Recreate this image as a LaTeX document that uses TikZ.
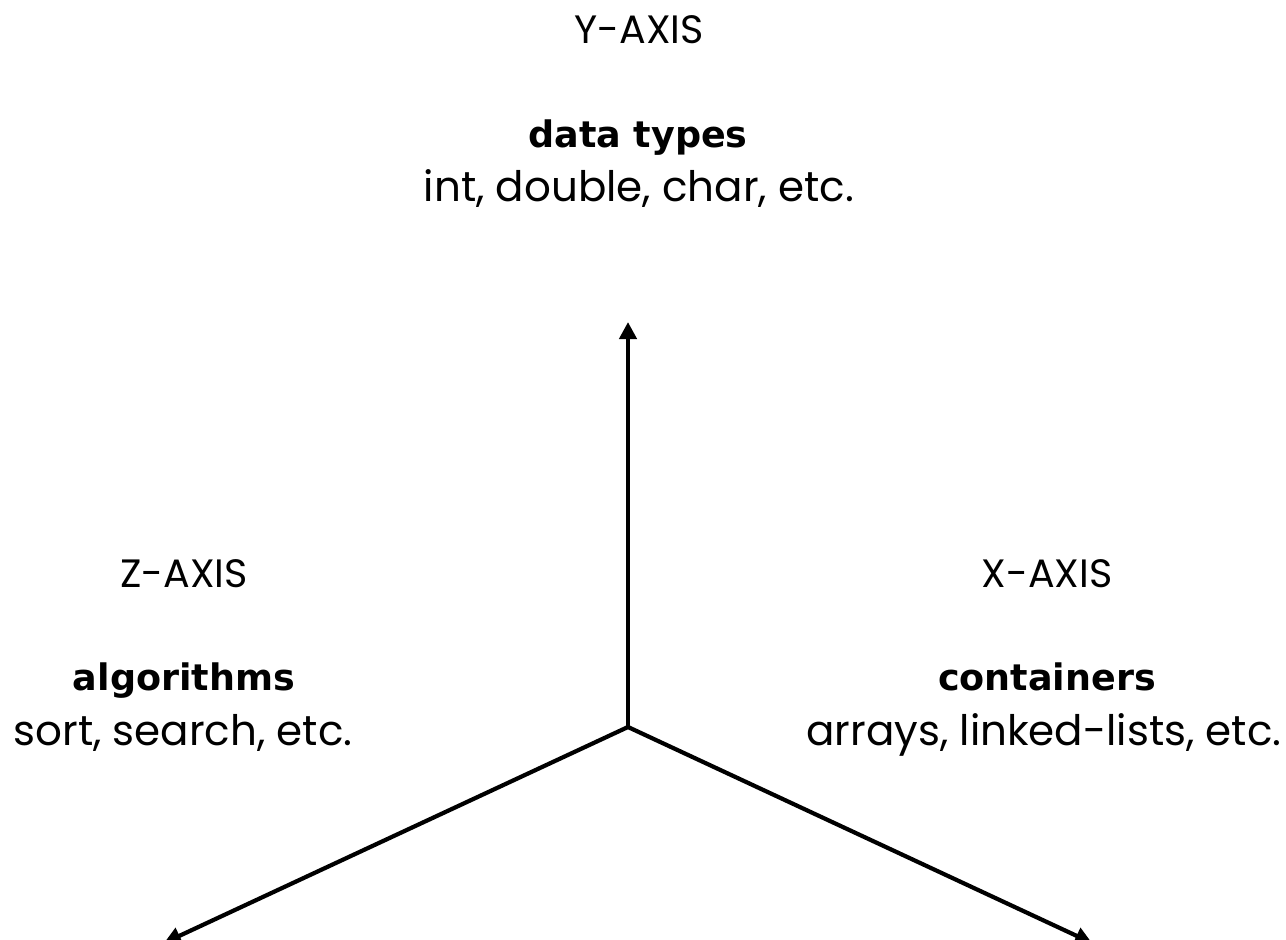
\documentclass[tikz,border=0pt]{standalone}
\usepackage{fontspec}
\setmainfont{Poppins}
\newfontfamily\boldfont{DejaVu Sans}
\usetikzlibrary{arrows.meta}
\tikzset{
  axis/.style={line width=4.2pt,-{Triangle[length=17pt,width=17pt]}},
  axlabel/.style={anchor=base,inner sep=0pt,font=\fontsize{39.6}{44}\selectfont},
  axtitle/.style={anchor=base,inner sep=0pt,font=\boldfont\bfseries\fontsize{36.5}{42}\selectfont},
  axdesc/.style={anchor=base,inner sep=0pt,font=\fontsize{42}{48}\selectfont}
}
\begin{document}
\begin{tikzpicture}[x=1pt,y=-1pt]
\useasboundingbox (0,0) rectangle (1286,940);
\clip (0,0) rectangle (1286,940);
\coordinate (o) at (628,727);
\coordinate (ytip) at (628,322);
\coordinate (ztip) at (164,943);
\coordinate (xtip) at (1092,943);
\draw[axis] (o) -- (ytip);
\draw[axis] (o) -- (ztip);
\draw[axis] (o) -- (xtip);
\node[axlabel] (yl) at (639,43) {Y-AXIS};
\node[axtitle] (yt) at (638,147) {data types};
\node[axdesc] (yd) at (639,201) {int, double, char, etc.};
\node[axlabel] (zl) at (184,587) {Z-AXIS};
\node[axtitle] (zt) at (184,690) {algorithms};
\node[axdesc] (zd) at (183,745) {sort, search, etc.};
\node[axlabel] (xl) at (1047,587) {X-AXIS};
\node[axtitle] (xt) at (1047,690) {containers};
\node[axdesc] (xd) at (1044,745) {arrays, linked-lists, etc.};
\end{tikzpicture}
\end{document}
